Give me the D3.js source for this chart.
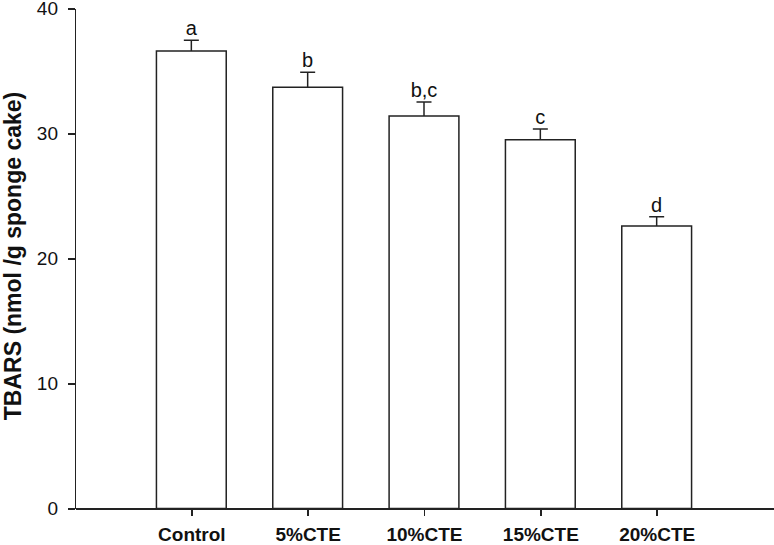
<!DOCTYPE html>
<html>
<head>
<meta charset="utf-8">
<script src="https://cdn.jsdelivr.net/npm/d3@7"></script>
<style>
  body { margin: 0; background: #fff; }
  svg { display: block; font-family: Arial, "Liberation Sans", sans-serif; }
  .axis path, .axis line { stroke: #222; stroke-width: 1.5px; shape-rendering: crispEdges; }
  .axis text { fill: #111; }
</style>
</head>
<body>
<div id="container"></div>
<script>
// ---------------- data ----------------
const groups = ["Control", "5%CTE", "10%CTE", "15%CTE", "20%CTE"];
const means = [36.6, 33.7, 31.4, 29.5, 22.6];
const errors = [0.86, 1.2, 1.12, 0.86, 0.74];
const letters = ["a", "b", "b,c", "c", "d"];
const yTicks = [0, 10, 20, 30, 40];

// ---------------- svg ----------------
const width = 774, height = 545;
const plotLeft = 75, plotRight = 773, plotTop = 8.5, plotBottom = 508.5;

const svg = d3.select("#container").append("svg")
    .attr("width", width)
    .attr("height", height);

// ---------------- scales ----------------
const x = d3.scalePoint().domain(groups).range([plotLeft, plotRight]).padding(1);
const y = d3.scaleLinear().domain([0, 40]).range([plotBottom, plotTop]);
const barW = x.step() * 0.6;

// ---------------- bars ----------------
const bars = svg.selectAll(".bar")
    .data(groups)
    .enter()
    .append("g")
    .attr("class", "bar");

bars.append("rect")
    .attr("x", d => x(d) - barW / 2)
    .attr("y", (d, i) => y(means[i]))
    .attr("width", barW)
    .attr("height", (d, i) => y(0) - y(means[i]))
    .attr("fill", "#fff")
    .attr("stroke", "#222")
    .attr("stroke-width", 1.5);

// error bars (upper only)
bars.append("line")
    .attr("x1", d => x(d)).attr("x2", d => x(d))
    .attr("y1", (d, i) => y(means[i]))
    .attr("y2", (d, i) => y(means[i] + errors[i]))
    .attr("stroke", "#222").attr("stroke-width", 1.5);

bars.append("line")
    .attr("x1", d => x(d) - 7.5).attr("x2", d => x(d) + 7.5)
    .attr("y1", (d, i) => y(means[i] + errors[i]))
    .attr("y2", (d, i) => y(means[i] + errors[i]))
    .attr("stroke", "#222").attr("stroke-width", 1.5);

// significance letters
bars.append("text")
    .attr("x", d => x(d))
    .attr("y", (d, i) => y(means[i] + errors[i]) - 5)
    .attr("text-anchor", "middle")
    .style("font-size", "20px")
    .style("fill", "#111")
    .text((d, i) => letters[i]);

// ---------------- axes ----------------
const yaxis = d3.axisLeft(y)
    .tickValues(yTicks)
    .tickSize(7)
    .tickSizeOuter(0)
    .tickPadding(10);

svg.append("g")
    .attr("class", "axis")
    .attr("transform", "translate(" + plotLeft + ",0)")
    .call(yaxis)
    .selectAll("text")
    .style("font-size", "19px");

const xaxis = d3.axisBottom(x)
    .tickSize(7)
    .tickSizeOuter(0)
    .tickPadding(12);

svg.append("g")
    .attr("class", "axis")
    .attr("transform", "translate(0," + plotBottom + ")")
    .call(xaxis)
    .selectAll("text")
    .style("font-size", "19px")
    .style("font-weight", "bold");

// y title
svg.append("text")
    .attr("transform", "translate(21," + 256 + ") rotate(-90)")
    .attr("text-anchor", "middle")
    .style("font-size", "23px")
    .style("font-weight", "bold")
    .style("fill", "#111")
    .text("TBARS (nmol /g sponge cake)");
</script>
</body>
</html>
